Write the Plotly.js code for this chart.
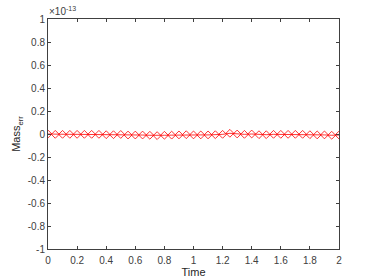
<!DOCTYPE html>
<html>
<head>
<meta charset="utf-8">
<script src="https://cdn.plot.ly/plotly-3.0.1.min.js"></script>
<style>html,body{margin:0;padding:0;background:#fff;}#chart{width:374px;height:280px;}</style>
</head>
<body>
<div id="chart"></div>
<script>
// Time samples
const time = [0,0.05,0.1,0.15,0.2,0.25,0.3,0.35,0.4,0.45,0.5,0.55,0.6,0.65,0.7,0.75,0.8,0.85,0.9,0.95,1,1.05,1.1,1.15,1.2,1.25,1.3,1.35,1.4,1.45,1.5,1.55,1.6,1.65,1.7,1.75,1.8,1.85,1.9,1.95,2];
// Mass error values (estimated)
const massErr = [0,-0.3e-15,-0.3e-15,-0.3e-15,-0.3e-15,-0.3e-15,-0.3e-15,-0.3e-15,-0.6e-15,-0.6e-15,-0.4e-15,-0.9e-15,-0.9e-15,-0.9e-15,-1.1e-15,-1.4e-15,-1.1e-15,-1.0e-15,-0.8e-15,-0.6e-15,-0.8e-15,-0.8e-15,-0.8e-15,-0.6e-15,-0.3e-15,0.6e-15,0,-0.3e-15,0,-0.6e-15,-0.6e-15,-0.3e-15,-0.3e-15,-0.3e-15,-0.3e-15,-0.3e-15,-0.6e-15,-0.8e-15,-0.8e-15,-1.1e-15,-0.9e-15];
const yTickVals = [-1e-13,-0.8e-13,-0.6e-13,-0.4e-13,-0.2e-13,0,0.2e-13,0.4e-13,0.6e-13,0.8e-13,1e-13];
const yTickText = ["-1","-0.8","-0.6","-0.4","-0.2","0","0.2","0.4","0.6","0.8","1"];
const xTickVals = [0,0.2,0.4,0.6,0.8,1,1.2,1.4,1.6,1.8,2];
const xTickText = ["0","0.2","0.4","0.6","0.8","1","1.2","1.4","1.6","1.8","2"];

const FONT = 'Liberation Sans, Arial, sans-serif';
const axCommon = {
  showgrid:false, zeroline:false, showline:true, linecolor:'#404040', linewidth:1,
  mirror:'ticks', ticks:'inside', ticklen:3, tickcolor:'#404040',
  tickfont:{family:FONT, size:10, color:'#404040'}
};

Plotly.newPlot('chart', [{
  x: time, y: massErr, type:'scatter', mode:'lines+markers',
  line:{color:'#ff0000', width:0.8},
  marker:{symbol:'diamond-open', size:6, color:'#ff0000', line:{color:'#ff0000', width:0.8}}
}], {
  width:374, height:280,
  margin:{l:48, r:35, t:19, b:31},
  paper_bgcolor:'#fff', plot_bgcolor:'#fff',
  showlegend:false,
  xaxis: Object.assign({}, axCommon, {
    range:[0,2], tickvals:xTickVals, ticktext:xTickText, ticklabelstandoff:2,
    title:{text:'Time', font:{family:FONT, size:11, color:'#262626'}, standoff:3}
  }),
  yaxis: Object.assign({}, axCommon, {
    range:[-1e-13,1e-13], tickvals:yTickVals, ticktext:yTickText,
    title:{text:'Mass<sub>err</sub>', font:{family:FONT, size:11, color:'#262626'}, standoff:4}
  }),
  annotations:[{
    xref:'paper', yref:'paper', x:0, y:1, xanchor:'left', yanchor:'bottom',
    text:'×10<sup>-13</sup>', showarrow:false, xshift:-1,
    font:{family:FONT, size:10, color:'#404040'}
  }]
}, {displayModeBar:false, staticPlot:true});
</script>
</body>
</html>
